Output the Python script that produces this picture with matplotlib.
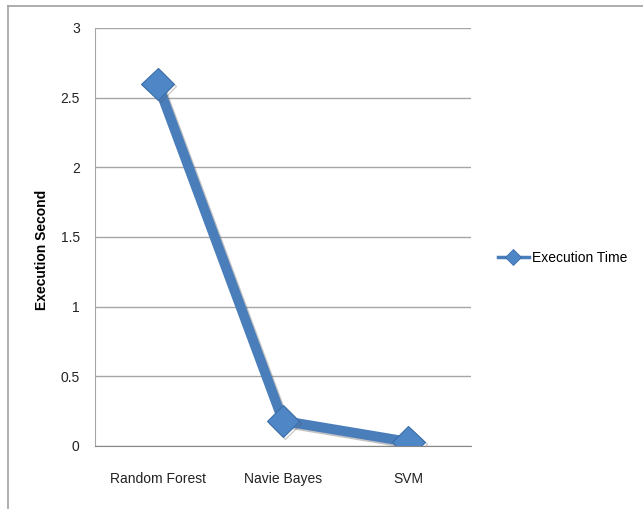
import matplotlib
matplotlib.use("Agg")
import matplotlib.pyplot as plt
import matplotlib.patheffects as pe
from matplotlib.lines import Line2D

# execution time per classifier
models = ["Random Forest", "Navie Bayes", "SVM"]
exec_seconds = [2.6, 0.18, 0.03]
yticks = [0, 0.5, 1, 1.5, 2, 2.5, 3]

LINE = "#4A7EBB"
GRID = "#A6A6A6"

plt.rcParams["font.family"] = ["Liberation Sans", "DejaVu Sans"]

fig = plt.figure(figsize=(6.43, 5.09), dpi=100)
ax = fig.add_axes([0.1477, 0.1238, 0.5848, 0.8212])

x = range(len(models))
shadow = [pe.SimpleLineShadow(offset=(1.5, -1.5), shadow_color="#555555", alpha=0.35), pe.Normal()]
ax.plot(x, exec_seconds, color=LINE, lw=7.2, marker="D", markersize=16.5,
        markerfacecolor="#4F86C6", markeredgecolor="#3A6EA8", markeredgewidth=0.8,
        path_effects=shadow, solid_joinstyle="miter", zorder=3)

ax.set_xlim(-0.5, len(models) - 0.5)
ax.set_ylim(0, 3)
ax.set_xticks(list(x))
ax.set_xticklabels(models, fontsize=10, color="#222222")
ax.set_yticks(yticks)
ax.set_yticklabels([f"{v:g}" for v in yticks], fontsize=10, color="#222222")
ax.tick_params(length=0)
ax.tick_params(axis="y", pad=11)
ax.tick_params(axis="x", pad=19)
ax.grid(axis="y", color=GRID, lw=1)
ax.set_axisbelow(True)
for s in ("top", "right"):
    ax.spines[s].set_visible(False)
ax.spines["left"].set_color(GRID)
ax.spines["bottom"].set_color("#868686")

fig.text(42 / 643, 1 - 250 / 509, "Execution Second", rotation=90, fontsize=10,
         fontweight="bold", ha="center", va="center")

handle = Line2D([], [], color=LINE, lw=2.5, marker="D", markersize=8,
                markerfacecolor="#4F86C6", markeredgecolor="#3A6EA8", markeredgewidth=0.6)
ax.legend([handle], ["Execution Time"], loc="center left",
          bbox_to_anchor=(485 / 643, 1 - 258 / 509),
          bbox_transform=fig.transFigure, frameon=False, fontsize=10,
          handlelength=2.3, handletextpad=0.2)

# chart frame: left and top edges only
fig.add_artist(Line2D([8 / 643, 8 / 643], [0, 1 - 6 / 509], color="#A0A0A0", lw=1.2))
fig.add_artist(Line2D([8 / 643, 1], [1 - 6 / 509, 1 - 6 / 509], color="#A0A0A0", lw=1.2))

fig.savefig("out.png", dpi=100)
